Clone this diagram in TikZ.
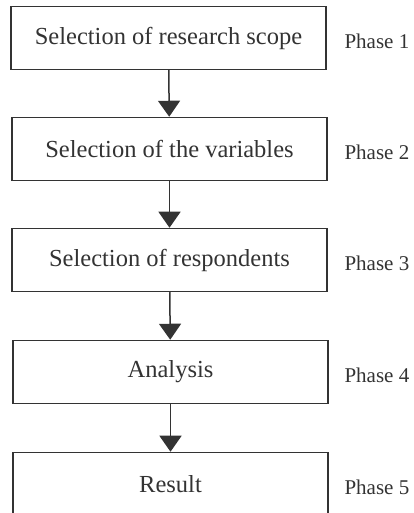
\documentclass[tikz,border=0pt]{standalone}
\usepackage{fontspec}
\setmainfont{Liberation Serif}
\usetikzlibrary{arrows.meta}

\begin{document}
\begin{tikzpicture}[>={Triangle[width=22pt,length=16pt]},x=1pt,y=1pt]
\tikzset{
  phasebox/.style={draw=black!80,line width=1.5pt,minimum width=315pt,minimum height=63pt,
    text=black!80,font=\fontsize{24.5}{28}\selectfont},
  phaselabel/.style={anchor=west,text=black!80,font=\fontsize{21}{25}\selectfont},
  flow/.style={->,draw=black!80,fill=black!80,line width=1.5pt}
}
\useasboundingbox (0,0) rectangle (414,513);
% boxes
\node[phasebox](scope) at (168.5,475){Selection of research scope};
\node[phasebox](vars) at (169.5,364){Selection of the variables};
\node[phasebox](resp) at (169.5,253){Selection of respondents};
\node[phasebox](anal) at (170.5,141){Analysis};
\node[phasebox](res) at (170.5,29){Result};
% phase labels
\node[phaselabel](p1) at (341,472){Phase 1};
\node[phaselabel](p2) at (341,361){Phase 2};
\node[phaselabel](p3) at (341,250){Phase 3};
\node[phaselabel](p4) at (341,138){Phase 4};
\node[phaselabel](p5) at (341,26){Phase 5};
% arrows
\draw[flow](scope)--(vars);
\draw[flow](vars)--(resp);
\draw[flow](resp)--(anal);
\draw[flow](anal)--(res);
\end{tikzpicture}
\end{document}
